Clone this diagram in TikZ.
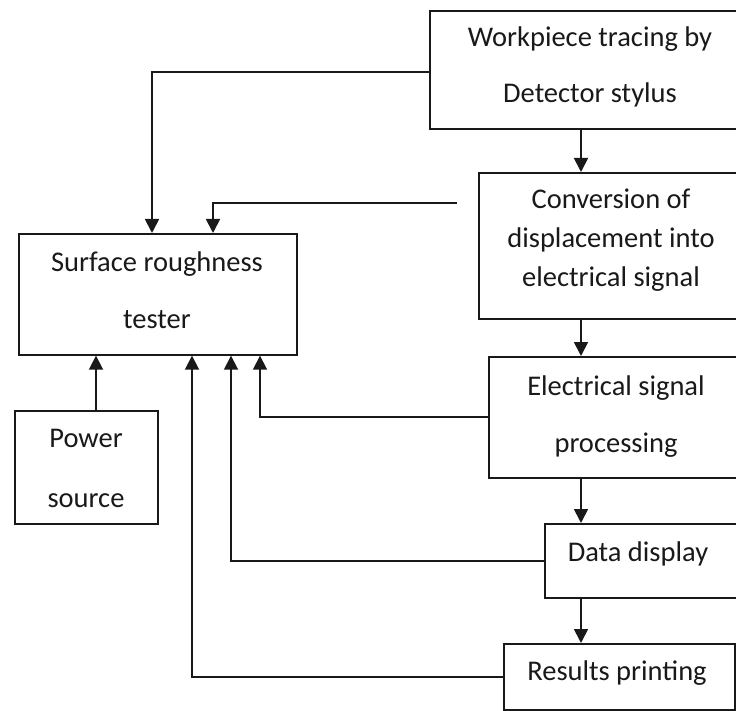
\documentclass[tikz,border=0pt]{standalone}
\usepackage{fontspec}
\setmainfont{Carlito}
\usetikzlibrary{arrows.meta}
\begin{document}
\begin{tikzpicture}[x=1pt,y=-1pt,
  box/.style={draw=black!90, line width=1.7pt, inner sep=0pt, anchor=north west},
  lbl/.style={anchor=base, inner sep=0pt, font=\fontsize{28.5}{34}\selectfont, text=black!90},
  link/.style={draw=black!90, line width=1.8pt},
  arr/.style={link, -{Triangle[width=14pt,length=14pt]}}]
\useasboundingbox (0,0) rectangle (736,711);
\clip (0,0) rectangle (736,711);

% process blocks
\node[box, minimum width=322pt, minimum height=118pt] (wp)     at (429,10)  {};
\node[box, minimum width=267pt, minimum height=146pt] (conv)   at (478,172) {};
\node[box, minimum width=278pt, minimum height=121pt] (tester) at (18,233)  {};
\node[box, minimum width=256pt, minimum height=121pt] (esp)    at (488,356) {};
\node[box, minimum width=143pt, minimum height=113pt] (power)  at (14,410)  {};
\node[box, minimum width=206pt, minimum height=74pt]  (data)   at (544,523) {};
\node[box, minimum width=231pt, minimum height=66pt]  (res)    at (503,643) {};

% block texts
\node[lbl] (wpA)   at (590,47)  {Workpiece tracing by};
\node[lbl] (wpB)   at (590,103) {Detector stylus};
\node[lbl] (convA) at (611,209) {Conversion of};
\node[lbl] (convB) at (611,248) {displacement into};
\node[lbl] (convC) at (611,287) {electrical signal};
\node[lbl] (tesA)  at (157,272) {Surface roughness};
\node[lbl] (tesB)  at (157,328) {tester};
\node[lbl] (espA)  at (616,395) {Electrical signal};
\node[lbl] (espB)  at (616,452) {processing};
\node[lbl] (powA)  at (86,447)  {Power};
\node[lbl] (powB)  at (86,507)  {source};
\node[lbl] (dataA) at (638,561) {Data display};
\node[lbl] (resA)  at (617,680) {Results printing};

% columns of the connectors
\coordinate (spine) at (581,0);
\coordinate (inA) at (152,0);
\coordinate (inB) at (213,0);
\coordinate (inC) at (192,0);
\coordinate (inD) at (231,0);
\coordinate (inE) at (260,0);
\coordinate (inP) at (96,0);
\coordinate (convTap) at (457,203);

% main chain
\draw[arr] (wp.south -| spine)   -- (conv.north -| spine);
\draw[arr] (conv.south -| spine) -- (esp.north -| spine);
\draw[arr] (esp.south -| spine)  -- (data.north -| spine);
\draw[arr] (data.south -| spine) -- (res.north -| spine);

% feeds into the tester
\draw[arr] ([yshift=-2pt]wp.west) -| (tester.north -| inA);
\draw[arr] (convTap) -| (tester.north -| inB);
\draw[arr] (esp.west)  -| (tester.south -| inE);
\draw[arr] (data.west) -| (tester.south -| inD);
\draw[arr] (res.west)  -| (tester.south -| inC);
\draw[arr] (power.north -| inP) -- (tester.south -| inP);
\end{tikzpicture}
\end{document}
